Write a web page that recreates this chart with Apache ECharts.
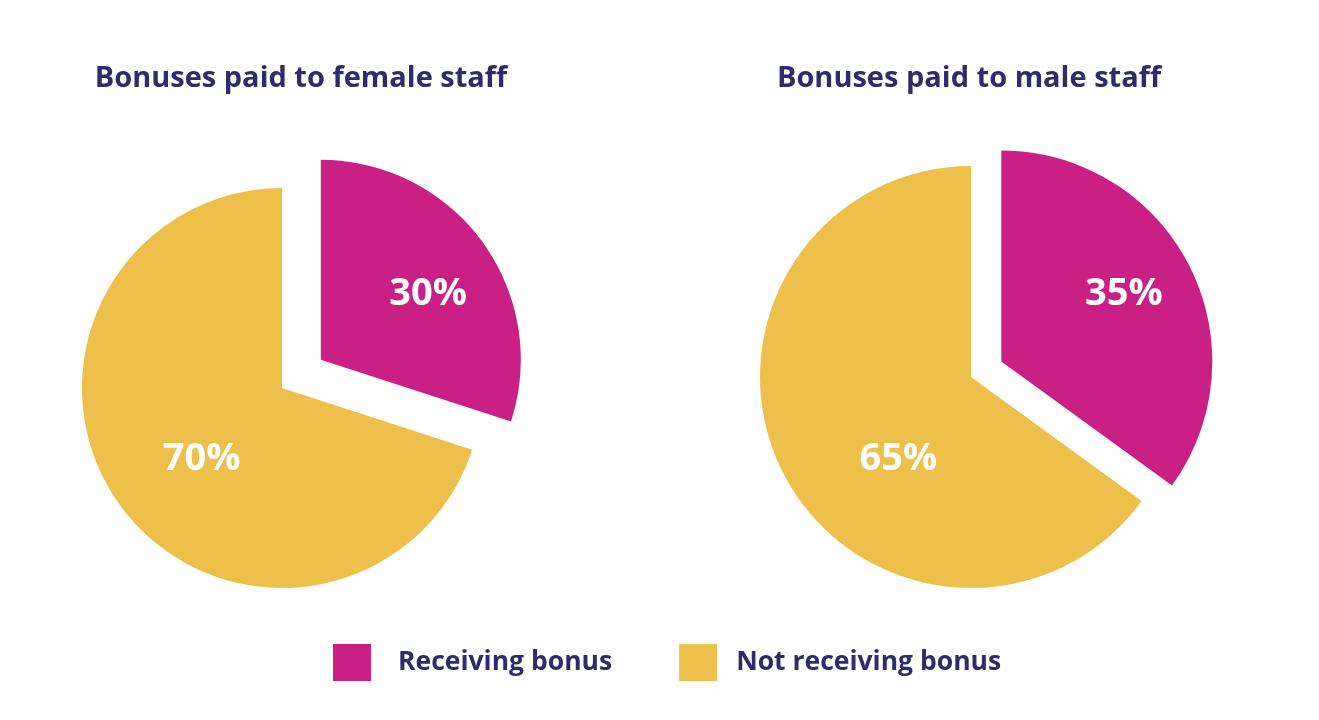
<!DOCTYPE html>
<html><head><meta charset="utf-8">
<script src="https://cdn.jsdelivr.net/npm/echarts@6/dist/echarts.min.js"></script>
<style>html,body{margin:0;padding:0;background:#fff}#c{width:1319px;height:720px}</style>
</head><body><div id="c"></div>
<script>
const categories = ['Receiving bonus', 'Not receiving bonus'];
const femaleValues = [30, 70];
const maleValues = [35, 65];
const chartTitles = ['Bonuses paid to female staff', 'Bonuses paid to male staff'];

const PINK = '#CA1F85', YELLOW = '#ECC04A', NAVY = '#2F2C6C';
const FONT = '"Open Sans"';

// label nudges relative to ECharts 'inside' placement [pink, yellow]
const labelNudges = [
  [[24, -5], [3, 11]],
  [[26, -18], [24, 33]]
];
const legendTextPad = [22, 14];

function makeSeries(values, center, radius, offset, idx) {
  return {
    type: 'pie',
    center: center,
    radius: radius,
    startAngle: 90,
    clockwise: true,
    selectedMode: 'single',
    selectedOffset: offset,
    animation: false,
    emphasis: { disabled: true },
    label: {
      show: true,
      position: 'inside',
      formatter: '{d}%',
      color: '#fff',
      fontFamily: FONT,
      fontWeight: 'bold',
      fontSize: 38
    },
    labelLine: { show: false },
    labelLayout: function (p) {
      const n = labelNudges[idx][p.dataIndex];
      return { dx: n[0], dy: n[1] };
    },
    data: categories.map((name, i) => ({
      name: name,
      value: values[i],
      selected: i === 0,
      itemStyle: { color: i === 0 ? PINK : YELLOW }
    }))
  };
}

const chart = echarts.init(document.getElementById('c'), null, { renderer: 'canvas' });
chart.setOption({
  animation: false,
  backgroundColor: '#fff',
  title: [
    { text: chartTitles[0], left: 301, top: 64, textAlign: 'center', padding: 0,
      textStyle: { color: NAVY, fontFamily: FONT, fontWeight: 'bold', fontSize: 29 } },
    { text: chartTitles[1], left: 969, top: 64, textAlign: 'center', padding: 0,
      textStyle: { color: NAVY, fontFamily: FONT, fontWeight: 'bold', fontSize: 29 } }
  ],
  legend: {
    data: categories.map((name, i) => ({
      name: name,
      textStyle: { padding: [0, 0, 0, legendTextPad[i]] }
    })),
    left: 333,
    top: 644,
    padding: 0,
    itemWidth: 38,
    itemHeight: 37,
    itemGap: 67,
    icon: 'rect',
    selectedMode: false,
    textStyle: { color: NAVY, fontFamily: FONT, fontWeight: 'bold', fontSize: 26.5 }
  },
  series: [
    makeSeries(femaleValues, [282, 388], 200, 48, 0),
    makeSeries(maleValues, [971, 377], 211, 34, 1)
  ]
});
</script></body></html>
